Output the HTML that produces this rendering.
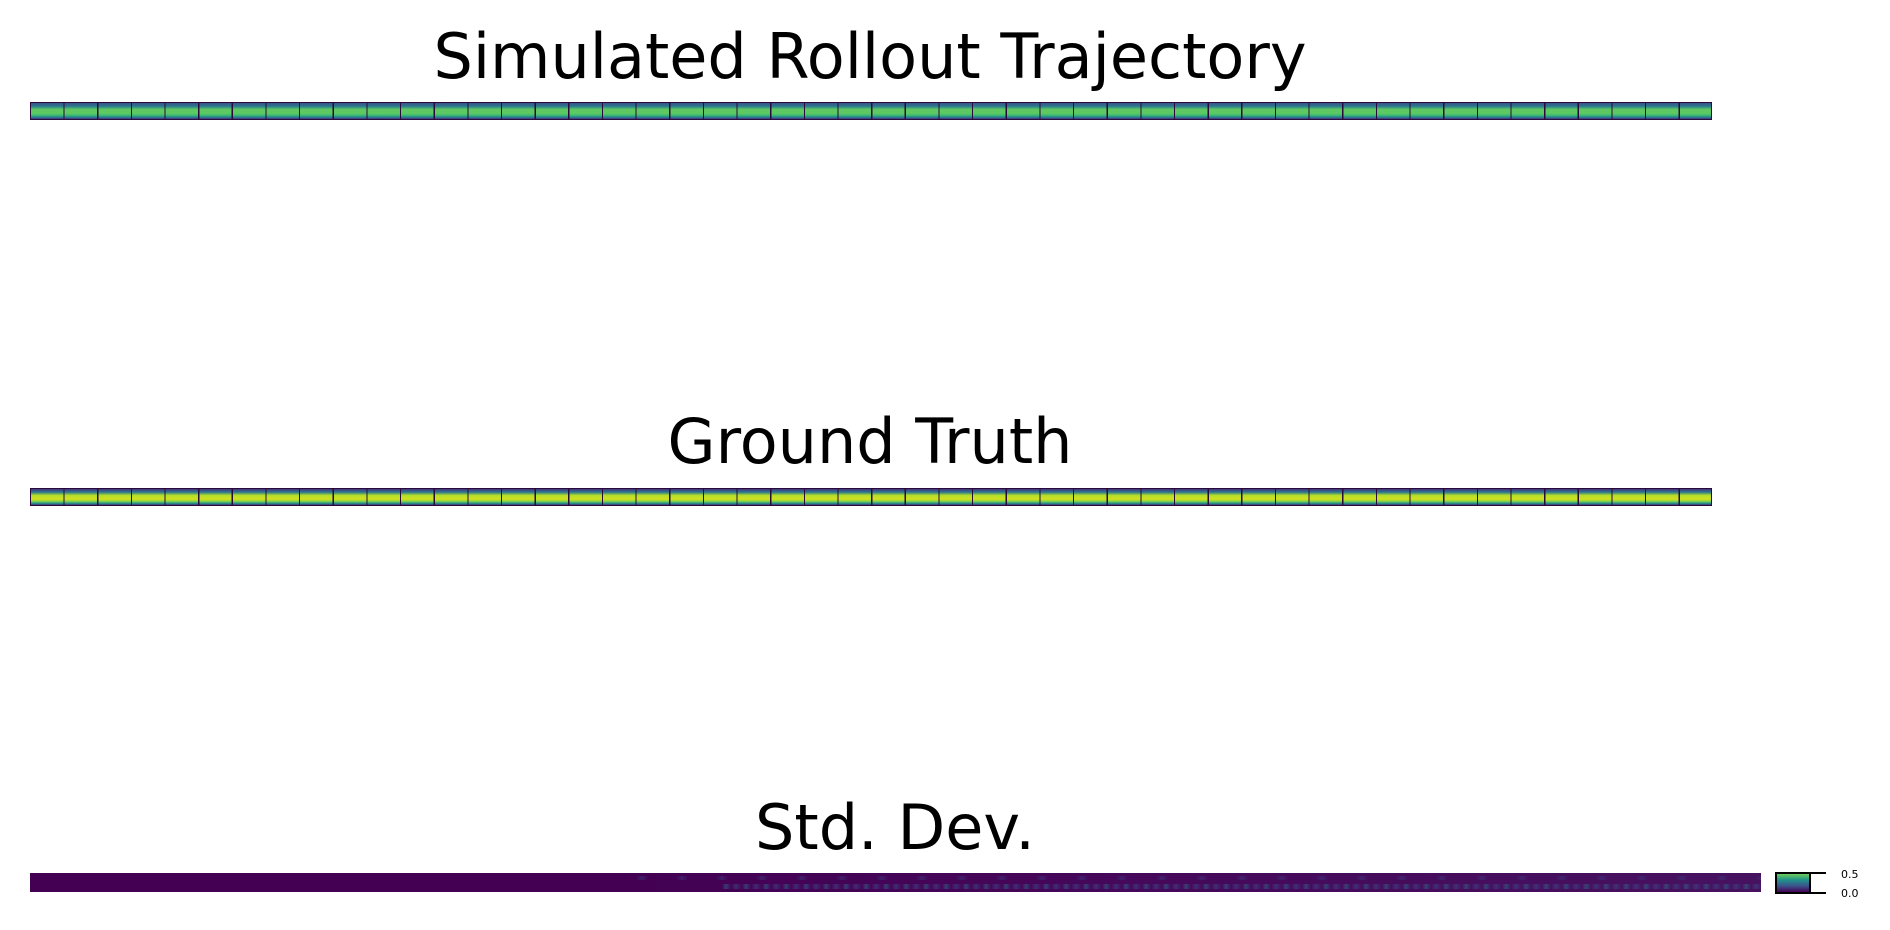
<!DOCTYPE html>
<html><head><meta charset="utf-8"><style>
body{margin:0;width:1890px;height:930px;background:#fff;position:relative;overflow:hidden;font-family:"DejaVu Sans","Liberation Sans",sans-serif}
.t{position:absolute;font-size:62px;color:#000;white-space:nowrap;transform:translateX(-50%);line-height:1}
.s{position:absolute;box-sizing:border-box;border:1px solid #2a0a3a}
.sep{position:absolute;inset:0;background:repeating-linear-gradient(90deg,transparent 0,transparent 32.45px,#2a0a3a 32.45px,#2a0a3a 33.65px)}
</style></head><body>
<div class="t" style="left:870px;top:26px">Simulated Rollout Trajectory</div>
<div class="s" style="left:30px;top:102px;width:1682px;height:18px;background:linear-gradient(#3b528b 0,#2a788e 20%,#5ec962 40%,#5ec962 65%,#35b779 78%,#2a788e 90%,#46327e 100%)"><div class="sep"></div></div>
<div class="t" style="left:870px;top:411px">Ground Truth</div>
<div class="s" style="left:30px;top:488px;width:1682px;height:18px;background:linear-gradient(#46327e 0,#2a788e 20%,#b5de2b 40%,#d0e11c 65%,#7ad151 78%,#21918c 90%,#46327e 100%)"><div class="sep"></div></div>
<div class="t" style="left:895px;top:797px">Std. Dev.</div>
<div style="position:absolute;left:30px;top:873px;width:1731px;height:19px;background:linear-gradient(90deg,#440154 0,#440154 35%,#45085a 65%,#461260 100%)">
<div style="position:absolute;left:35%;right:0;top:3px;height:4px;background:repeating-linear-gradient(90deg,transparent 0,#3a3a80 6px,transparent 12px,transparent 40px);opacity:.5"></div>
<div style="position:absolute;left:40%;right:0;top:11px;height:5px;background:repeating-linear-gradient(90deg,transparent 0,#2a6f8e 4px,transparent 9px,#3a4c8a 14px,transparent 20px);opacity:.55"></div>
</div>
<div style="position:absolute;left:1775px;top:872px;width:36px;height:22px;box-sizing:border-box;border:2px solid #000;background:linear-gradient(#6ccd5a,#21918c,#3b528b,#440154)"></div>
<div style="position:absolute;left:1809px;top:872px;width:17px;height:22px;box-sizing:border-box;border:2px solid #000;border-left:none;border-right:none"></div>
<div style="position:absolute;left:1841px;top:868px;font-size:11px">0.5</div>
<div style="position:absolute;left:1841px;top:887px;font-size:11px">0.0</div>
</body></html>
